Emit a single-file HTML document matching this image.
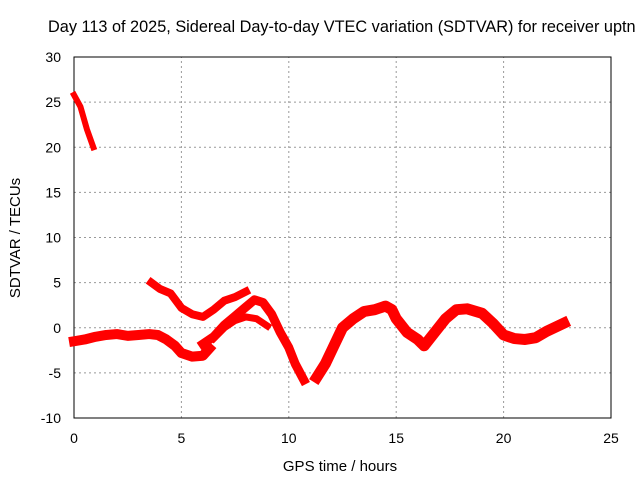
<!DOCTYPE html>
<html><head><meta charset="utf-8"><style>
body{margin:0;background:#fff}
svg{display:block;font-family:"Liberation Sans",sans-serif}
</style></head><body>
<svg id="c" width="640" height="480"></svg>
<script>
const xTicks=[0,5,10,15,20,25];
const yTicks=[-10,-5,0,5,10,15,20,25,30];
const segA_h=[0,0.3,0.6,0.9];
const segA_v=[25.8,24.5,22,20];
const segB_h=[0,0.5,1,1.5,2,2.5,3,3.5,3.9,4.3,4.7,5,5.5,6,6.3];
const segB_v=[-1.5,-1.3,-1,-0.8,-0.7,-0.9,-0.8,-0.7,-0.8,-1.3,-2,-2.8,-3.2,-3.1,-2.3];
const segC_h=[3.6,4,4.5,5,5.5,6,6.5,7,7.5,8];
const segC_v=[5,4.3,3.8,2.2,1.5,1.2,2,3,3.4,4];
const segD_h=[6,6.5,7,7.5,8,8.4,8.8,9.2,9.6,10,10.3,10.7];
const segD_v=[-1.8,-1,0.3,1.3,2.3,3.1,2.8,1.5,-0.5,-2.2,-4,-5.8];
const segE_h=[6.5,7,7.5,8,8.5,9];
const segE_v=[-1.2,0,0.8,1.2,1,0.2];
const segF_h=[11.3,11.7,12,12.5,13,13.5,14,14.5,14.8,15,15.5,16,16.3,16.8,17.3,17.8,18.3,19,19.5,20,20.5,21,21.5,22,22.8];
const segF_v=[-5.5,-4,-2.5,0,1,1.8,2,2.4,2,1,-0.5,-1.3,-2,-0.5,1,2,2.1,1.6,0.5,-0.8,-1.2,-1.3,-1.1,-0.4,0.5];
const X0=74,X1=611,Y0=418,Y1=57;
const sx=h=>X0+(h-0)/(25-0)*(X1-X0);
const sy=v=>Y0-(v+10)/40*(Y0-Y1);
const svg=document.getElementById('c');
const NS='http://www.w3.org/2000/svg';
function mk(t,a){const e=document.createElementNS(NS,t);for(const k in a)e.setAttribute(k,a[k]);svg.appendChild(e);return e;}
xTicks.forEach(t=>{
 if(t>0&&t<25){const g=mk('line',{x1:sx(t),x2:sx(t),y1:Y0,y2:Y1,stroke:'#999','stroke-dasharray':'2,3'});
 
 }
 const l=mk('text',{x:sx(t),y:Y0+25,'text-anchor':'middle','font-size':14});
 l.textContent=t;
 
 
});
yTicks.forEach(t=>{
 if(t>-10&&t<30){const g=mk('line',{x1:X0,x2:X1,y1:sy(t),y2:sy(t),stroke:'#999','stroke-dasharray':'2,3'});
 
 }
 const l=mk('text',{x:X0-13,y:sy(t)+5,'text-anchor':'end','font-size':14});
 l.textContent=t;
 
 
});
const fr=mk('rect',{x:X0,y:Y1,width:X1-X0,height:Y0-Y1,fill:'none',stroke:'#000'});


[[segA_h,segA_v,6],[segB_h,segB_v,10],[segC_h,segC_v,8],[segD_h,segD_v,9],[segE_h,segE_v,7],[segF_h,segF_v,11]].forEach(([h,v,w])=>{
 const p=mk('polyline',{points:h.map((x,i)=>sx(x)+','+sy(v[i])).join(' '),fill:'none',stroke:'#f00','stroke-width':w,'stroke-linejoin':'round','stroke-linecap':'square'});
 
 
});
const t=mk('text',{x:48,y:32,'font-size':16.3});
t.textContent='Day 113 of 2025, Sidereal Day-to-day VTEC variation (SDTVAR) for receiver uptn';


const xt=mk('text',{x:340,y:471,'text-anchor':'middle','font-size':15});
xt.textContent='GPS time / hours';


const yt=mk('text',{x:0,y:0,'text-anchor':'middle','font-size':15,transform:'translate(20,238) rotate(-90)'});
yt.textContent='SDTVAR / TECUs';


</script>
</body></html>
